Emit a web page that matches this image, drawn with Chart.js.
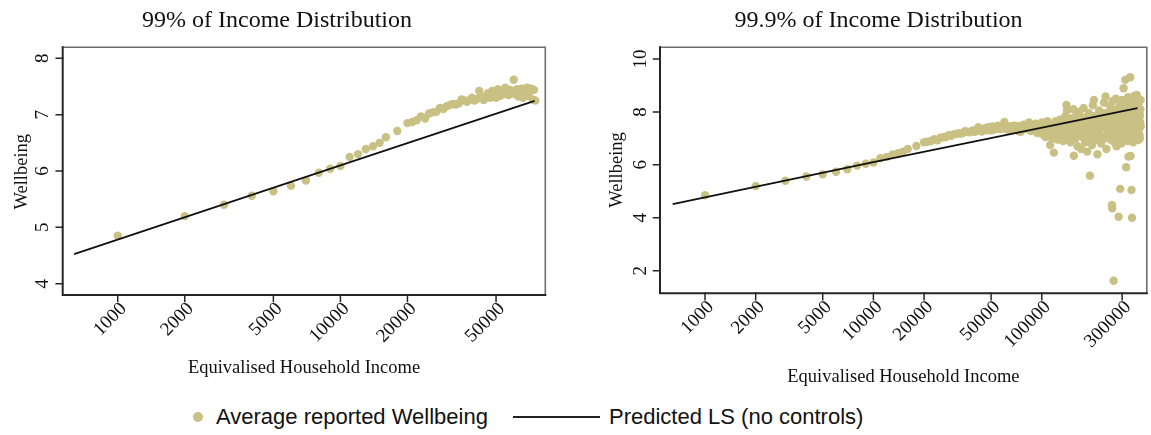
<!DOCTYPE html>
<html>
<head>
<meta charset="utf-8">
<script src="https://cdn.jsdelivr.net/npm/chart.js@4.4.1/dist/chart.umd.min.js"></script>
<style>
html,body{margin:0;padding:0;background:#fff;}
body{width:1151px;height:435px;position:relative;overflow:hidden;}
canvas{position:absolute;top:0;}
#c1{left:0;}
#c2{left:575px;}
.lg{position:absolute;font-family:'Liberation Sans',Arial,sans-serif;font-size:22px;color:#111;line-height:26px;top:404px;white-space:nowrap;}
#ldot{position:absolute;left:193px;top:412px;width:10px;height:10px;border-radius:50%;background:#c9c083;}
#lline{position:absolute;left:513px;top:416px;width:87px;height:2px;background:#222;}
</style>
</head>
<body>
<canvas id="c1" width="575" height="395"></canvas>
<canvas id="c2" width="576" height="395"></canvas>
<div id="ldot"></div>
<div class="lg" style="left:216px;">Average reported Wellbeing</div>
<div id="lline"></div>
<div class="lg" style="left:609px;">Predicted LS (no controls)</div>
<script>
// ---- data ----
const baseIncome = [1000,2000,3000,4000,5000,6000,7000,8000,9000,10000,11000,12000,13000,14000,15000,16000,18000,
  20000,21000,22000,23000,24000,25000,26000,27000,28000,29000,30000,31000,32000,33000,34000,35000,36000,37000,38000,39000,
  40000,41000,42000,43000,44000,45000,46000,47000,48000,49000,50000,51000,52000,53000,54000,55000,56000,57000,58000,59000,
  60000,61000,62000,63000,64000,65000,66000,67000,68000,69000,70000,71000,72000,73000,74000,75000];
const baseWellbeing = [4.85,5.20,5.40,5.56,5.64,5.74,5.83,5.97,6.04,6.09,6.25,6.30,6.39,6.44,6.50,6.60,6.71,
  6.85,6.87,6.90,6.97,6.93,7.02,7.04,7.05,7.12,7.10,7.15,7.17,7.19,7.18,7.20,7.27,7.25,7.23,7.26,7.30,
  7.25,7.28,7.42,7.30,7.26,7.33,7.38,7.30,7.42,7.36,7.30,7.45,7.33,7.40,7.36,7.48,7.38,7.35,7.44,7.40,
  7.62,7.36,7.45,7.32,7.42,7.46,7.30,7.45,7.38,7.48,7.33,7.43,7.46,7.27,7.44,7.25];
const topIncome = [76000,78000,80000,82000,84000,86000,88000,90000,92000,94000,96000,98000,100000,101000,
  102000,104000,105000,107000,108000,110000,112000,113000,115000,117000,118000,120000,122000,124000,126000,128000,130000,132000,134000,136000,138000,140000,141000,142000,144000,
  146000,148000,150000,152000,154000,155000,157000,159000,161000,163000,165000,167000,169000,171000,173000,175000,177000,179000,181000,184000,186000,188000,190000,193000,195000,197000,199000,201000,204000,206000,208000,211000,214000,216000,219000,222000,225000,228000,231000,234000,237000,239000,242000,245000,248000,
  251000,253000,255000,257000,259000,261000,262000,263000,265000,267000,268000,270000,272000,274000,276000,278000,280000,283000,286000,287000,289000,292000,293000,295000,297000,299000,301000,303000,306000,308000,310000,313000,315000,317000,319000,321000,323000,325000,327000,329000,331000,333000,335000,337000,339000,341000,343000,345000,347000,349000,351000,353000,355000,358000,360000,362000,364000,367000,369000,371000,373000,375000,377000,379000,381000,383000,385000,387000,
  103000,109000,116000,121000,127000,133000,139000,145000,149000,153000,158000,162000,168000,172000,176000,180000,185000,189000,194000,198000,203000,207000,212000,217000,221000,226000,230000,235000,240000,244000,249000,
  254000,258000,264000,269000,273000,277000,282000,285000,290000,294000,298000,302000,307000,311000,314000,318000,322000,326000,330000,334000,338000,342000,346000,350000,354000,357000,361000,365000,368000,372000,376000,380000,384000,386000,382000];
const topWellbeing = [7.40,7.52,7.35,7.45,7.60,7.28,7.48,7.40,7.55,7.20,7.45,7.33,7.60,7.15,
  7.25,7.55,7.05,7.35,7.65,7.15,6.75,7.45,7.00,7.30,6.46,7.55,7.20,6.95,7.40,7.70,7.10,7.50,6.90,7.30,7.85,8.26,8.05,7.60,7.05,
  7.40,6.85,7.75,7.20,8.10,6.34,7.55,7.00,7.90,6.70,7.35,8.00,7.15,6.60,7.65,7.05,8.15,7.40,6.85,7.80,6.50,7.25,7.95,5.59,7.10,7.60,6.75,8.25,8.45,7.35,6.95,7.75,6.40,7.20,8.05,7.50,6.80,7.95,7.05,8.35,7.40,8.58,6.60,7.70,7.15,
  7.95,7.30,8.20,6.95,7.60,4.48,4.36,8.40,7.10,1.62,7.80,6.85,8.05,7.45,8.50,6.70,7.25,7.90,4.04,7.55,6.95,5.09,8.30,7.40,6.80,7.75,8.45,7.15,8.89,7.95,6.98,9.21,7.60,5.91,8.25,7.30,6.90,8.55,6.31,7.85,7.05,8.15,9.31,6.33,7.50,5.05,4.00,8.40,7.20,6.85,7.95,8.60,7.40,7.00,8.20,7.70,6.95,8.64,7.30,8.05,6.94,7.55,8.35,7.70,7.10,7.85,8.10,7.45,
  7.40,7.55,7.25,7.65,7.35,7.20,7.45,7.65,7.30,7.05,7.70,7.45,7.85,7.30,7.55,7.15,7.45,7.00,7.75,7.30,7.60,7.85,7.05,7.55,7.30,7.80,7.50,7.00,7.95,7.35,7.60,
  7.70,8.05,7.50,7.20,7.65,7.95,7.35,8.15,7.60,7.10,8.20,7.50,7.30,7.80,8.35,7.15,7.70,8.00,7.40,7.65,8.30,7.25,7.90,7.55,7.15,8.00,7.35,7.80,7.60,8.25,7.25,7.95,7.60,8.45,6.98];
const fitIncomeLeft = [637, 10000, 74500];
const fitLeft = [4.527, 6.10, 7.243];
const fitIncomeRight = [643, 10000, 370000];
const fitRight = [4.518, 6.10, 8.14];
const leftXTicks = [1000, 2000, 5000, 10000, 20000, 50000];
const rightXTicks = [1000, 2000, 5000, 10000, 20000, 50000, 100000, 300000];
const leftYTicks = [4, 5, 6, 7, 8];
const rightYTicks = [2, 4, 6, 8, 10];

const DOT = '#c9c083';
const SERIF = "'Liberation Serif','Times New Roman',serif";

function makeChart(id, o) {
  const decor = {
    id: 'decor',
    afterDatasetsDraw(chart) {
      const ctx = chart.ctx, a = chart.chartArea, xs = chart.scales.x, ys = chart.scales.y;
      ctx.save();
      ctx.lineCap = 'square';
      ctx.strokeStyle = '#6e6e6e'; ctx.lineWidth = 1.6;
      ctx.beginPath(); ctx.moveTo(a.left, a.top); ctx.lineTo(a.right, a.top); ctx.lineTo(a.right, a.bottom); ctx.stroke();
      ctx.strokeStyle = '#262626'; ctx.lineWidth = 2;
      ctx.beginPath(); ctx.moveTo(a.left, a.top); ctx.lineTo(a.left, a.bottom); ctx.lineTo(a.right, a.bottom); ctx.stroke();
      ctx.lineWidth = 1.5; ctx.strokeStyle = '#262626';
      ctx.beginPath();
      o.xTicks.forEach(v => { const px = xs.getPixelForValue(v); ctx.moveTo(px, a.bottom); ctx.lineTo(px, a.bottom + 6.5); });
      o.yTicks.forEach(v => { const py = ys.getPixelForValue(v); ctx.moveTo(a.left, py); ctx.lineTo(a.left - 6.5, py); });
      ctx.stroke();
      ctx.fillStyle = '#111';
      ctx.font = '19px ' + SERIF;
      ctx.textAlign = 'center'; ctx.textBaseline = 'middle';
      o.yTicks.forEach(v => {
        const py = ys.getPixelForValue(v);
        ctx.save(); ctx.translate(o.yLabX, py); ctx.rotate(-Math.PI / 2); ctx.fillText(String(v), 0, 1); ctx.restore();
      });
      ctx.textAlign = 'right';
      o.xTicks.forEach(v => {
        const px = xs.getPixelForValue(v);
        ctx.save(); ctx.translate(px + 6, a.bottom + 11); ctx.rotate(-Math.PI / 4); ctx.fillText(String(v), 0, 0); ctx.restore();
      });
      ctx.font = '18.5px ' + SERIF;
      ctx.textAlign = 'center';
      ctx.fillText('Equivalised Household Income', (a.left + a.right) / 2, o.xTitleY);
      ctx.save(); ctx.translate(o.yTitleX, o.yTitleY); ctx.rotate(-Math.PI / 2); ctx.fillText('Wellbeing', 0, 0); ctx.restore();
      ctx.font = '24px ' + SERIF;
      ctx.fillText(o.title, o.titleX, 21);
      ctx.restore();
    }
  };
  return new Chart(document.getElementById(id), {
    type: 'scatter',
    data: {
      datasets: [
        { type: 'line', data: o.fitX.map((x, i) => ({ x: x, y: o.fitY[i] })), borderColor: '#111', borderWidth: 1.8,
          pointRadius: 0, fill: false, tension: 0, order: 0 },
        { data: o.ptsX.map((x, i) => ({ x: x, y: o.ptsY[i] })), backgroundColor: DOT, pointRadius: 4.2,
          borderWidth: 0, order: 1 }
      ]
    },
    options: {
      responsive: false, animation: false, events: [],
      layout: { padding: o.pad },
      plugins: { legend: { display: false }, tooltip: { enabled: false } },
      scales: {
        x: { type: 'logarithmic', min: o.xmin, max: o.xmax, display: false },
        y: { type: 'linear', min: o.ymin, max: o.ymax, display: false }
      }
    },
    plugins: [decor]
  });
}

makeChart('c1', {
  title: '99% of Income Distribution', titleX: 277,
  ptsX: baseIncome, ptsY: baseWellbeing,
  fitX: fitIncomeLeft, fitY: fitLeft,
  xTicks: leftXTicks, yTicks: leftYTicks,
  xmin: 566, xmax: 83200, ymin: 3.80, ymax: 8.195,
  pad: { left: 62.7, right: 29.7, top: 47.3, bottom: 100 },
  yLabX: 41.7, yTitleX: 21.7, yTitleY: 171.7, xTitleY: 368
});
makeChart('c2', {
  title: '99.9% of Income Distribution', titleX: 303.6,
  ptsX: baseIncome.concat(topIncome), ptsY: baseWellbeing.concat(topWellbeing),
  fitX: fitIncomeRight, fitY: fitRight,
  xTicks: rightXTicks, yTicks: rightYTicks,
  xmin: 540.4, xmax: 420300, ymin: 1.145, ymax: 10.44,
  pad: { left: 85, right: 1, top: 47.3, bottom: 101.7 },
  yLabX: 65, yTitleX: 42.2, yTitleY: 170, xTitleY: 376.7
});
</script>
</body>
</html>
